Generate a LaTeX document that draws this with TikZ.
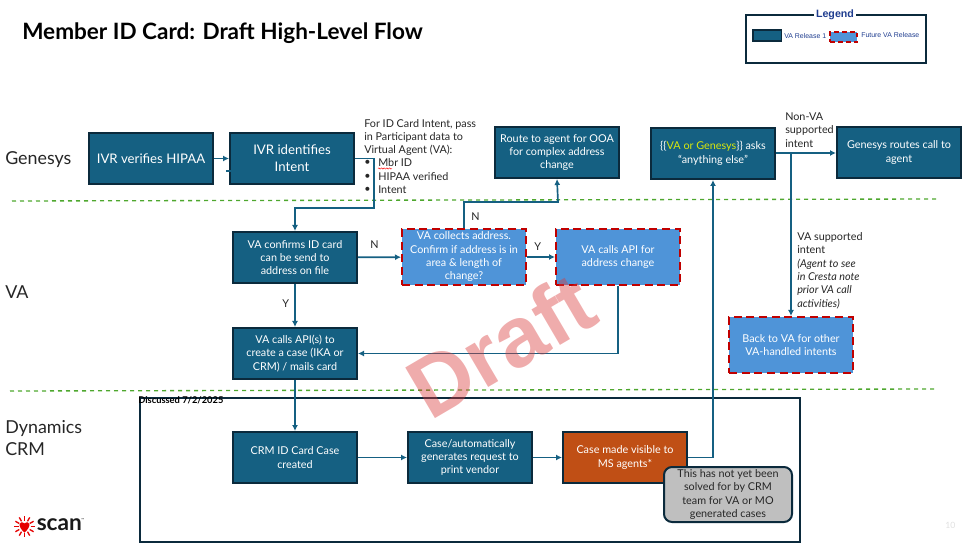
\documentclass[tikz,border=0pt]{standalone}
\usepackage{fontspec}
\setmainfont{Lato}
\newfontfamily\legendfont{Liberation Sans}
\usetikzlibrary{arrows.meta, positioning, decorations.pathmorphing}
\definecolor{tealbox}{HTML}{156082}
\definecolor{darkedge}{HTML}{0B2A3C}
\definecolor{lightbox}{HTML}{4F94D8}
\definecolor{dashred}{HTML}{C00000}
\definecolor{orangebox}{HTML}{C04F15}
\definecolor{greenline}{HTML}{4EA72E}
\definecolor{legendblue}{HTML}{1F3D8F}
\definecolor{draftred}{HTML}{D93A3A}

\begin{document}
\begin{tikzpicture}[
	x=.75pt,
	y=-.75pt,
	font=\fontsize{8.1}{10}\selectfont,
	release/.style={
		draw=darkedge,
		line width=1.5pt,
		fill=tealbox,
		text=white,
		align=center,
		anchor=north west,
		minimum width=93pt,
		minimum height=38.25pt,
		inner sep=0pt
	},
	future/.style={
		release,
		draw=dashred,
		dash pattern=on 6pt off 3.5pt,
		fill=lightbox,
		minimum height=42pt
	},
	bigtext/.style={font=\fontsize{9.9}{12.8}\selectfont},
	flow/.style={
		draw=tealbox,
		line width=1.25pt,
		-{Latex[length=4.5pt,width=4.5pt]}
	},
	swimlane/.style={draw=greenline, line width=1pt, dashed},
	label/.style={anchor=west, inner sep=0pt, align=left, text=black!85},
	lane/.style={label, font=\fontsize{13.4}{16.5}\selectfont}
	]
	\useasboundingbox (0,0) rectangle (964,545);

	% title and legend
	\node[label, anchor=west, text=black, font=\fontsize{16.9}{20}\selectfont\bfseries] (title) at (22,33) {Member ID Card: Draft High-Level Flow};
	\draw[draw=darkedge, line width=.8pt] (746,15) rectangle (926,63);
	\node[fill=white, inner sep=1.5pt, text=legendblue, font=\legendfont\fontsize{8}{10}\selectfont\bfseries] (legend) at (835,15) {Legend};
	\node[release, line width=1.3pt, minimum width=21.5pt, minimum height=8.5pt] (swatchA) at (752,29) {};
	\node[release, draw=dashred, fill=lightbox, dash pattern=on 3.5pt off 2.5pt, line width=1.3pt, minimum width=20.5pt, minimum height=7.5pt] (swatchB) at (829,31) {};
	\node[label, text=legendblue, font=\legendfont\fontsize{5.2}{6}\selectfont] (legendA) at (784,36) {VA Release 1};
	\node[label, text=legendblue, font=\legendfont\fontsize{5.2}{6}\selectfont] (legendB) at (861,35.5) {Future VA Release};

	% lanes
	\node[lane] (genesys) at (5,159.5) {Genesys};
	\node[lane] (va) at (5,292) {VA};
	\node[lane] (crm) at (5,438) {Dynamics\\CRM};
	\draw[swimlane] (12,201) -- (938,199);
	\draw[swimlane] (10,391) -- (936,389);

	% discussed frame
	\node[draw=darkedge, line width=1.5pt, anchor=north west, minimum width=495pt, minimum height=108pt, inner sep=0pt] (frame) at (139,397) {};
	\node[label, text=black, font=\fontsize{7}{8}\selectfont\bfseries] (discussed) at (138,400.5) {Discussed 7/2/2025};

	% process boxes
	\node[release, bigtext] (verify) at (88,132) {IVR verifies HIPAA};
	\node[release, bigtext] (identify) at (229,132) {IVR identifies\\Intent};
	\node[release] (agentooa) at (494,126) {Route to agent for OOA\\for complex address\\change};
	\node[release] (anything) at (650,127) {\{\{\textcolor{yellow!85!green}{VA or Genesys}\}\} asks\\``anything else''};
	\node[release] (routes) at (836,126) {Genesys routes call to\\agent};
	\node[release] (confirm) at (232,231) {VA confirms ID card\\can be send to\\address on file};
	\node[future] (collect) at (401,228) {VA collects address.\\Confirm if address is in\\area \& length of\\change?};
	\node[future] (addrapi) at (555,228) {VA calls API for\\address change};
	\node[future] (backva) at (728,316) {Back to VA for other\\VA-handled intents};
	\node[release] (caseapi) at (232,327) {VA calls API(s) to\\create a case (IKA or\\CRM) / mails card};
	\node[release] (crmcase) at (232,431) {CRM ID Card Case\\created};
	\node[release] (printreq) at (407,431) {Case/automatically\\generates request to\\print vendor};
	\node[release, fill=orangebox] (visible) at (562,431) {Case made visible to\\MS agents*};
	\node[release, rounded corners=6pt, fill=black!25, text=black!85, minimum width=96pt, minimum height=41.25pt] (crmnote) at (663,466) {This has not yet been\\solved for by CRM\\team for VA or MO\\generated cases};

	% connector bends
	\coordinate (bendA) at (374,208);
	\coordinate (bendN) at (558,202);
	\coordinate (branch) at (791,153);
	\coordinate (stubA) at (226,171);
	\coordinate (stubB) at (231,171);

	% connectors
	\draw[flow] (verify) -- (identify);
	\draw[draw=tealbox, line width=1.25pt] (stubA) -- (stubB);
	\draw[flow] (identify.east) -| (bendA) -| (confirm.north);
	\draw[flow] (confirm) -- (collect);
	\draw[flow] (confirm) -- (caseapi);
	\draw[flow] (collect.north) |- (bendN) -- (agentooa.south);
	\draw[flow] (collect) -- (addrapi);
	\draw[flow] (addrapi.south) |- (caseapi.east);
	\draw[flow] (caseapi) -- (crmcase);
	\draw[flow] (crmcase) -- (printreq);
	\draw[flow] (printreq) -- (visible);
	\draw[flow] (visible.east) -| (anything.south);
	\draw[flow] (anything.east |- branch) -- (routes.west |- branch);
	\draw[flow] (branch) -- (backva.north -| branch);

	% note and bullets
	\node[label] (note) at (364,137.5) {For ID Card Intent, pass\\in Participant data to\\Virtual Agent (VA):};
	\foreach \y/\bullet/\txt in {163/mbr/Mbr ID, 176.5/hipaa/HIPAA verified, 190/intent/Intent} {
		\node[label] (dot\bullet) at (364,\y) {•};
		\node[label] (\bullet) at (378,\y) {\txt};
	}
	\draw[draw=red, line width=.35pt, decorate, decoration={snake, amplitude=.5pt, segment length=2pt}] (378,168.5) -- (392,168.5);

	% connector labels
	\node[label] (nA) at (370,245) {N};
	\node[label] (yA) at (282,304) {Y};
	\node[label] (nB) at (471,217) {N};
	\node[label] (yB) at (534,247) {Y};
	\node[label] (nonva) at (785,130) {Non-VA\\supported\\intent};
	\node[label] (vaintent) at (797,270.5) {VA supported\\intent\\\textit{(Agent to see}\\\textit{in Cresta note}\\\textit{prior VA call}\\\textit{activities)}};

	% page mark
	\node[label, text=black!12, font=\fontsize{6.5}{8}\selectfont] (pagenum) at (945,525) {10};
	\node[rotate=30.4, text=draftred, opacity=.42, font=\legendfont\fontsize{64}{70}\selectfont\bfseries] (draft) at (501,345) {Draft};

	% logo
	\foreach \a in {0,30,...,330} {
		\draw[draw=red!90!black, line width=1pt] (24.5,526.5) ++(\a:6) -- ++(\a:4.5);
	}
	\fill[red!90!black] (24.5,532.5) .. controls (17,526.5) and (19,519.5) .. (24.5,523.5) .. controls (30,519.5) and (32,526.5) .. (24.5,532.5) -- cycle;
	\node[label, text=black!90, font=\fontsize{17}{20}\selectfont\bfseries] (scan) at (36.5,524.5) {scan};
	\node[label, text=black!85, font=\fontsize{3}{4}\selectfont] (scantm) at (81,520) {™};
\end{tikzpicture}
\end{document}
